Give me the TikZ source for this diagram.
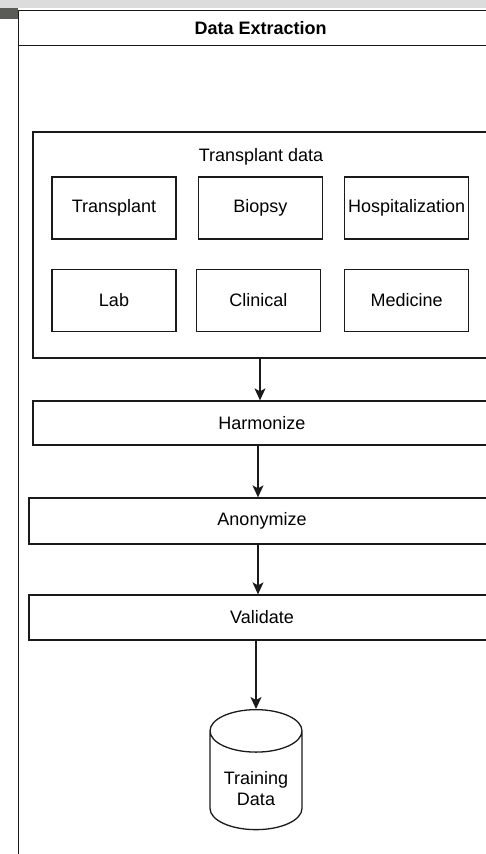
\documentclass[tikz,border=0pt]{standalone}
\usepackage{fontspec}
\setmainfont{Liberation Sans}
\usetikzlibrary{shapes.geometric, arrows.meta, positioning}
\definecolor{dline}{HTML}{1A1A1A}
\definecolor{topgray}{HTML}{DCDCDC}
\definecolor{tabgray}{HTML}{5B5B57}
\newcommand{\labelfont}{\fontsize{18}{21}\selectfont}
\tikzset{
  panel/.style={rectangle, draw=dline, line width=1.3pt, inner sep=0pt, font=\labelfont},
  item/.style={rectangle, draw=dline, line width=1.3pt, inner sep=0pt,
               minimum width=124pt, minimum height=62pt, font=\labelfont},
  stage/.style={rectangle, draw=dline, line width=1.3pt, inner sep=0pt, font=\labelfont},
  store/.style={cylinder, shape border rotate=90, aspect=0.95, draw=dline, line width=1.3pt,
                minimum width=92pt, minimum height=120pt, align=center, font=\labelfont},
  flow/.style={-{Stealth[length=12pt, width=11pt, inset=3pt]}, draw=dline, line width=1.3pt}
}
\begin{document}
\begin{tikzpicture}[x=1pt, y=-1pt]
  \useasboundingbox (0,0) rectangle (486,854);
  \clip (0,0) rectangle (486,854);
  \fill[topgray] (0,0) rectangle (486,8);
  \fill[tabgray] (0,8) rectangle (17.5,19);

  % outer frame and title bar
  \node[panel, anchor=north west, minimum width=485pt, minimum height=870pt] (frame) at (17.5,10) {};
  \node[panel, anchor=north west, minimum width=485pt, minimum height=35pt,
        font=\labelfont\bfseries] (title) at (frame.north west) {Data Extraction};

  % transplant data group
  \node[panel, minimum width=458pt, minimum height=226pt] (tdata) at (262,245) {};
  \node[font=\labelfont] (tdlabel) at (261,157) {Transplant data};
  \node[item] (transplant) at (114,208) {Transplant};
  \node[item, right=21pt of transplant] (biopsy) {Biopsy};
  \node[item, right=21pt of biopsy] (hosp) {Hospitalization};
  \node[item, below=29pt of transplant] (lab) {Lab};
  \node[item, below=29pt of biopsy, xshift=-2pt] (clinical) {Clinical};
  \node[item, below=29pt of hosp] (medicine) {Medicine};

  % pipeline
  \node[stage, minimum width=458pt, minimum height=44pt] (harm) at (262,423) {Harmonize};
  \node[stage, minimum width=466pt, minimum height=46pt] (anon) at (262,521) {Anonymize};
  \node[stage, minimum width=466pt, minimum height=45pt] (valid) at (262,617.5) {Validate};
  \node[store, anchor=north] (train) at (256,709) {\phantom{Data}};
  \node[font=\labelfont, align=center] (traintext) at (256,789) {Training\\Data};

  \draw[flow] ([xshift=-2pt]tdata.south) -- ([xshift=-2pt]harm.north);
  \draw[flow] ([xshift=-4pt]harm.south) -- ([xshift=-4pt]anon.north);
  \draw[flow] ([xshift=-4pt]anon.south) -- ([xshift=-4pt]valid.north);
  \draw[flow] (valid.south -| train.north) -- (train.north);
\end{tikzpicture}
\end{document}
